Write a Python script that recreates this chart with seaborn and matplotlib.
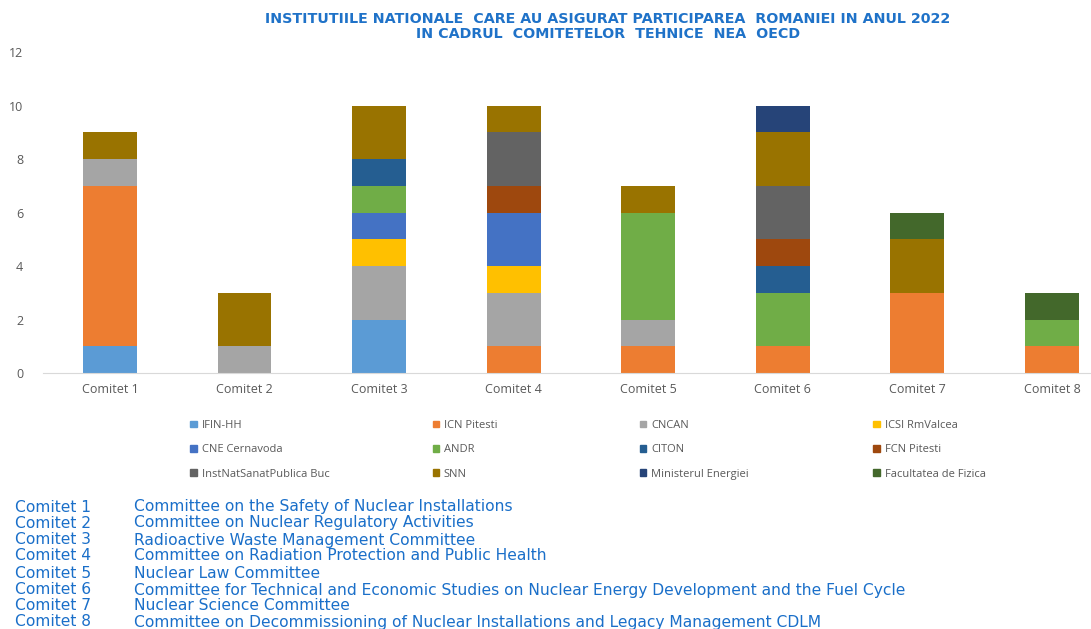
import matplotlib
matplotlib.use("Agg")
import matplotlib.pyplot as plt
import matplotlib.patches as mpatches
import seaborn as sns
import pandas as pd
import numpy as np

# Committees on the x axis
committees = ["Comitet 1", "Comitet 2", "Comitet 3", "Comitet 4",
              "Comitet 5", "Comitet 6", "Comitet 7", "Comitet 8"]

# Institutions (stack order, bottom to top)
institutions = ["IFIN-HH", "ICN Pitesti", "CNCAN", "ICSI RmValcea",
                "CNE Cernavoda", "ANDR", "CITON", "FCN Pitesti",
                "InstNatSanatPublica Buc", "SNN", "Ministerul Energiei",
                "Facultatea de Fizica"]

# Participations per institution, one value per committee
ifin_hh = [1, 0, 2, 0, 0, 0, 0, 0]
icn_pitesti = [6, 0, 0, 1, 1, 1, 3, 1]
cncan = [1, 1, 2, 2, 1, 0, 0, 0]
icsi_rmvalcea = [0, 0, 1, 1, 0, 0, 0, 0]
cne_cernavoda = [0, 0, 1, 2, 0, 0, 0, 0]
andr = [0, 0, 1, 0, 4, 2, 0, 1]
citon = [0, 0, 1, 0, 0, 1, 0, 0]
fcn_pitesti = [0, 0, 0, 1, 0, 1, 0, 0]
inst_sanat = [0, 0, 0, 2, 0, 2, 0, 0]
snn = [1, 2, 2, 1, 1, 2, 2, 0]
min_energiei = [0, 0, 0, 0, 0, 1, 0, 0]
fac_fizica = [0, 0, 0, 0, 0, 0, 1, 1]

colors = ["#5B9BD5", "#ED7D31", "#A5A5A5", "#FFC000", "#4472C4", "#70AD47",
          "#255E91", "#9E480E", "#636363", "#997300", "#264478", "#43682B"]

# Committee descriptions under the chart
descriptions = [
    "Committee on the Safety of Nuclear Installations",
    "Committee on Nuclear Regulatory Activities",
    "Radioactive Waste Management Committee",
    "Committee on Radiation Protection and Public Health",
    "Nuclear Law Committee",
    "Committee for Technical and Economic Studies on Nuclear Energy Development and the Fuel Cycle",
    "Nuclear Science Committee",
    "Committee on Decommissioning of Nuclear Installations and Legacy Management CDLM",
]

title = ("INSTITUTIILE NATIONALE  CARE AU ASIGURAT PARTICIPAREA  ROMANIEI IN ANUL 2022\n"
         "IN CADRUL  COMITETELOR  TEHNICE  NEA  OECD")

series = [ifin_hh, icn_pitesti, cncan, icsi_rmvalcea, cne_cernavoda, andr,
          citon, fcn_pitesti, inst_sanat, snn, min_energiei, fac_fizica]

df = pd.DataFrame(dict(zip(institutions, series)), index=committees)
cum = df.cumsum(axis=1)

sns.set_style("white")
fig = plt.figure(figsize=(10.91, 6.29), dpi=100)
ax = fig.add_axes([0.0391, 0.407, 0.9868, 0.5103])

# stacked bars: draw cumulative totals from top layer down
for i in range(len(institutions) - 1, -1, -1):
    sns.barplot(x=committees, y=cum.iloc[:, i].values, color=colors[i],
                saturation=1, width=0.4, ax=ax, linewidth=0)

ax.set_ylim(0, 12)
ax.set_yticks(range(0, 13, 2))
ax.set_xlim(-0.5, 7.5)
for s in ["left", "top", "right"]:
    ax.spines[s].set_visible(False)
ax.spines["bottom"].set_color("#D9D9D9")
ax.set_xticks(np.arange(-0.5, 8, 1), minor=True)
ax.tick_params(axis="x", which="minor", length=4, color="#D9D9D9", direction="out")
ax.tick_params(axis="x", which="major", length=0, pad=7, labelsize=9,
               labelcolor="#595959")
ax.tick_params(axis="y", length=0, pad=14, labelsize=9, labelcolor="#595959")
for lab in ax.get_xticklabels() + ax.get_yticklabels():
    lab.set_family("Open Sans")
ax.set_xlabel("")
ax.set_ylabel("")

fig.text(0.557, 0.981, title, ha="center", va="top", fontsize=10.3,
         fontweight="bold", color="#1F72C8", family="DejaVu Sans",
         linespacing=1.12)

# legend, four columns
col_x = [0.1695, 0.3915, 0.5815, 0.7955]
for j in range(4):
    handles = [mpatches.Patch(color=colors[k], label=institutions[k])
               for k in (j, j + 4, j + 8)]
    leg = fig.legend(handles=handles, loc="upper left",
                     bbox_to_anchor=(col_x[j], 0.341), frameon=False,
                     handlelength=0.55, handleheight=0.55,
                     handletextpad=0.45, labelspacing=1.2, borderpad=0,
                     prop={"family": "Open Sans", "size": 8})
    for t in leg.get_texts():
        t.set_color("#595959")

# committee descriptions
row_y = [507, 523, 540, 556, 573, 590, 606, 622]
for i in range(len(committees)):
    y = 1 - row_y[i] / 629
    fig.text(15 / 1091, y, committees[i], ha="left", va="center",
             fontsize=11.2, color="#1A6FC9", family="DejaVu Sans")
    fig.text(134 / 1091, y, descriptions[i], ha="left", va="center",
             fontsize=11.2, color="#1A6FC9", family="DejaVu Sans")

fig.savefig("out.png", dpi=100)
